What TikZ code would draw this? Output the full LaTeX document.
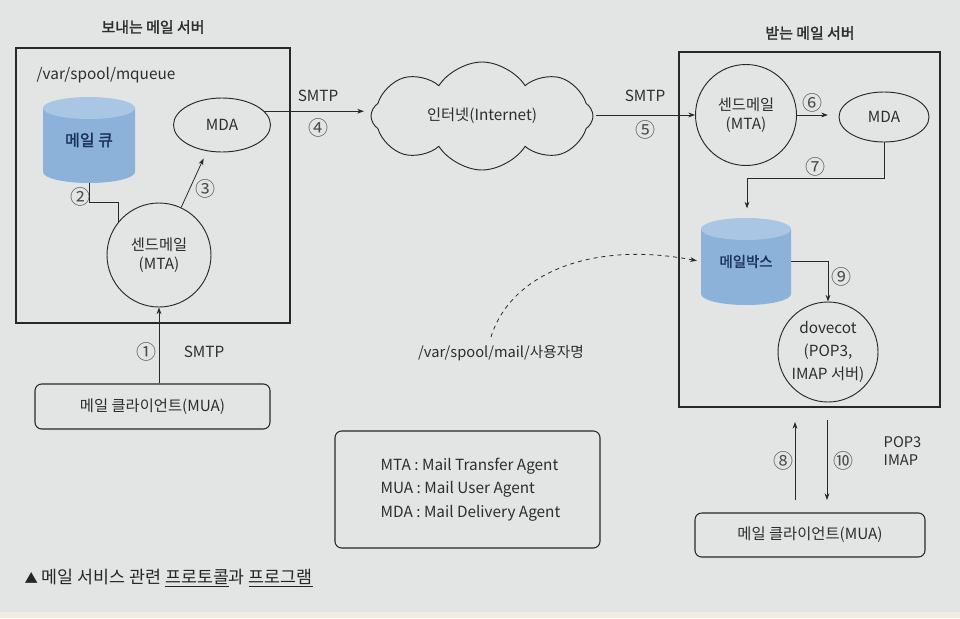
\documentclass[tikz,border=0pt]{standalone}
\usepackage{fontspec}
\setmainfont{Noto Sans CJK KR}[AutoFakeBold=2]
\usetikzlibrary{arrows.meta,shapes.geometric,shapes.symbols,calc}
\definecolor{bgc}{RGB}{227,229,228}
\definecolor{cream}{RGB}{239,236,224}
\definecolor{ink}{RGB}{40,40,40}
\definecolor{txt}{RGB}{45,45,45}
\definecolor{cylbody}{RGB}{141,178,217}
\definecolor{cyltop}{RGB}{170,198,229}
\definecolor{cyltxt}{RGB}{28,50,95}
\begin{document}
\begin{tikzpicture}[x=0.75pt,y=-0.75pt,
  font=\fontsize{11.5}{14}\selectfont, text=txt,
  line/.style={draw=ink,line width=0.6pt},
  arr/.style={line,-{Stealth[length=5pt,width=3.6pt]}},
  frame/.style={draw=ink,line width=0.8pt,rectangle,inner sep=0pt},
  rbox/.style={draw=ink,line width=0.8pt,rectangle,rounded corners=5pt,inner sep=0pt},
  circ/.style={draw=ink,line width=0.7pt,circle,inner sep=0pt,align=center},
  ell/.style={draw=ink,line width=0.7pt,ellipse,inner sep=0pt},
  num/.style={font=\fontsize{15}{16}\selectfont, text=black!70},
  cyl/.style={rectangle,inner sep=0pt,text=cyltxt},
]
\useasboundingbox (0,0) rectangle (960,618);
\fill[bgc] (0,0) rectangle (960,618);
\fill[cream] (0,612) rectangle (960,618);

% frames
\node[frame, minimum width=205.5pt, minimum height=206.25pt] (sendbox) at (153,185.5) {};
\node[frame, minimum width=195.75pt, minimum height=266.25pt] (recvbox) at (809.5,229.5) {};

% titles
\node[font=\fontsize{11.2}{14}\selectfont\bfseries] (t1) at (153,27) {보내는 메일 서버};
\node[font=\fontsize{11.2}{14}\selectfont\bfseries] (t2) at (810,33) {받는 메일 서버};
\node[anchor=west] (mq) at (32,75) {/var/spool/mqueue};

% cylinders
\fill[cylbody] (43,108) -- (43,172) arc[start angle=180,end angle=360,x radius=34.5pt,y radius=8.25pt] -- (135,108) -- cycle;
\fill[cyltop] (89,108) ellipse[x radius=34.5pt, y radius=8.25pt];
\node[cyl, minimum width=69pt, minimum height=64.5pt, font=\fontsize{12}{14}\selectfont\bfseries] (queue) at (89,140) {메일 큐};

\fill[cylbody] (701,229) -- (701,294) arc[start angle=180,end angle=360,x radius=33.75pt,y radius=8.25pt] -- (791,229) -- cycle;
\fill[cyltop] (746,229) ellipse[x radius=33.75pt, y radius=8.25pt];
\node[cyl, minimum width=67.5pt, minimum height=65.25pt, font=\fontsize{10.8}{13}\selectfont\bfseries] (mbox) at (746,261.5) {메일박스};

% nodes
\node[ell, minimum width=72.75pt, minimum height=40.5pt] (mda1) at (222,125) {MDA};
\node[circ, minimum size=78pt] (mta1) at (159,255) {센드메일\\(MTA)};
\node[rbox, minimum width=176.25pt, minimum height=33.75pt] (mua1) at (152.5,406.5) {메일 클라이언트(MUA)};
\node[cloud, draw=ink, line width=0.7pt, cloud puffs=8, cloud puff arc=115, aspect=2.1,
      minimum width=166.5pt, minimum height=81pt, inner sep=0pt] (net) at (482,116) {인터넷(Internet)};
\node[circ, minimum size=75.75pt] (mta2) at (746,115) {센드메일\\(MTA)};
\node[ell, minimum width=67.5pt, minimum height=37.5pt] (mda2) at (884,117) {MDA};
\node[circ, minimum size=75pt, font=\fontsize{11.5}{17}\selectfont] (dove) at (828,352) {dovecot\\(POP3,\\IMAP 서버)};
\node[rbox, minimum width=172.5pt, minimum height=33pt] (mua2) at (810,535) {메일 클라이언트(MUA)};
\node[rbox, minimum width=198.75pt, minimum height=87.75pt] (legend) at (467.5,489.5) {};
\node[anchor=west, align=left, font=\fontsize{11.5}{17.6}\selectfont] (legtxt) at (376,489.5)
  {MTA : Mail Transfer Agent\\MUA : Mail User Agent\\MDA : Mail Delivery Agent};
\node[font=\fontsize{11}{13}\selectfont] (mpath) at (501,353) {/var/spool/mail/사용자명};
\node[anchor=west, font=\fontsize{13}{15}\selectfont, text=black!85] (cap) at (20,578)
  {{\fontsize{10}{12}\selectfont ▲} 메일 서비스 관련 \underline{프로토콜}과 \underline{프로그램}};

% labels
\node[num] (n1) at (146,352) {①};
\node (s1) at (204,352) {SMTP};
\node[num] (n2) at (80,197) {②};
\node[num] (n3) at (205,189) {③};
\node (s4) at (318,96) {SMTP};
\node[num] (n4) at (318,128) {④};
\node (s5) at (645,96) {SMTP};
\node[num] (n5) at (645,130) {⑤};
\node[num] (n6) at (812,103) {⑥};
\node[num] (n7) at (815,167) {⑦};
\node[num] (n8) at (783,461) {⑧};
\node[num] (n9) at (841,277) {⑨};
\node[num] (n10) at (843,461) {⑩};
\node[anchor=west, align=left, font=\fontsize{11}{13.5}\selectfont] (pi) at (879,451) {POP3\\IMAP};

% connectors
\draw[arr] (mta1.south |- mua1.north) -- (mta1.south);
\coordinate (q2) at (118,202);
\draw[line] (queue.south) |- (q2) -- (q2 |- mta1.142);
\draw[arr, shorten >=6pt] (mta1.65) -- (mda1.240);
\draw[arr, shorten >=5pt] (mda1.18) -- (net.west |- mda1.18);
\draw[arr, shorten <=2pt] (net.east |- mta2.west) -- (mta2.west);
\draw[arr, shorten >=8pt] (mta2.east) -- (mta2.east -| mda2.west);
\coordinate (c7) at (747,178);
\draw[arr, shorten >=7pt] (mda2.south) |- (c7) -- (c7 |- mbox.north);
\draw[arr] (mbox.east) -| (dove.north);
\coordinate (ds) at (491,337);
\draw[arr, dash pattern=on 3pt off 3pt, shorten >=3pt] (ds) .. controls (510,275) and (590,240) .. (mbox.west);
\coordinate (u8b) at (795,500);
\coordinate (u8t) at (795,422);
\draw[arr] (u8b) -- (u8t);
\coordinate (d10t) at (827,420);
\coordinate (d10b) at (827,500);
\draw[arr] (d10t) -- (d10b);
\end{tikzpicture}
\end{document}
